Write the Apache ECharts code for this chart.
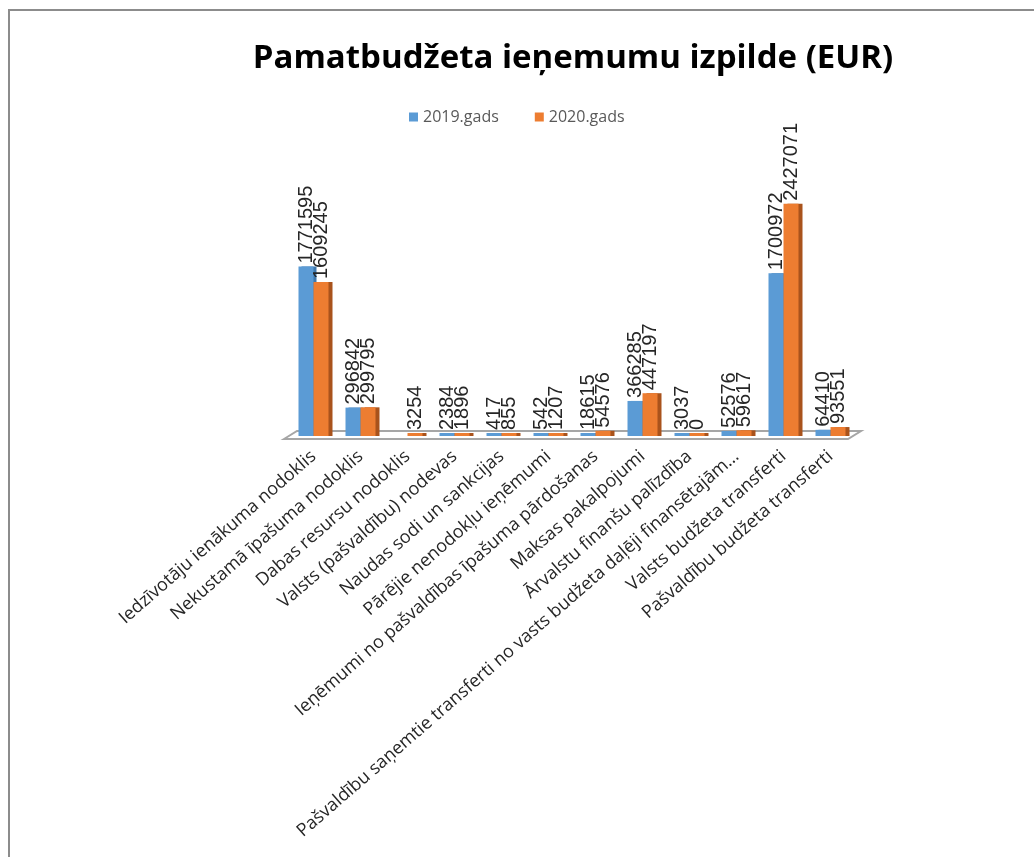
<!DOCTYPE html>
<html><head><meta charset="utf-8">
<script src="https://cdn.jsdelivr.net/npm/echarts@6/dist/echarts.min.js"></script>
<style>
html,body{margin:0;padding:0;background:#fff;}
#c{position:absolute;left:0;top:0;width:1034px;height:857px;}
#frame{position:absolute;left:8px;top:9px;width:1040px;height:860px;border-left:2px solid #8c8c8c;border-top:2px solid #8c8c8c;pointer-events:none;}
</style></head>
<body>
<div id="c"></div>
<div id="frame"></div>
<script>
const titleText = 'Pamatbudžeta ieņemumu izpilde (EUR)';
const seriesNames = ['2019.gads', '2020.gads'];
const categories = [
  'Iedzīvotāju ienākuma nodoklis',
  'Nekustamā īpašuma nodoklis',
  'Dabas resursu nodoklis',
  'Valsts (pašvaldību) nodevas',
  'Naudas sodi un sankcijas',
  'Pārējie nenodokļu ieņēmumi',
  'Ieņēmumi no pašvaldības īpašuma pārdošanas',
  'Maksas pakalpojumi',
  'Ārvalstu finanšu palīzdība',
  'Pašvaldību saņemtie transferti no vasts budžeta daļēji finansētajām…',
  'Valsts budžeta transferti',
  'Pašvaldību budžeta transferti'
];
const values2019 = [1771595, 296842, null, 2384, 417, 542, 18615, 366285, 3037, 52576, 1700972, 64410];
const values2020 = [1609245, 299795, 3254, 1896, 855, 1207, 54576, 447197, 0, 59617, 2427071, 93551];

const chart = echarts.init(document.getElementById('c'));
const labelStyle = {
  show: true, position: 'top', rotate: 90, align: 'left', verticalAlign: 'middle',
  distance: 3, fontFamily: 'Liberation Sans', fontSize: 20, color: '#262626'
};
chart.setOption({
  backgroundColor: '#ffffff',
  animation: false,
  title: {
    text: titleText, left: 568, top: 37, textAlign: 'center',
    textStyle: { fontFamily: 'Open Sans', fontWeight: 'bold', fontSize: 33, color: '#000000' }
  },
  legend: {
    data: seriesNames, left: 404, top: 104, itemWidth: 9, itemHeight: 9, itemGap: 36,
    icon: 'rect',
    textStyle: { fontFamily: 'Open Sans', fontSize: 16, color: '#595959' }
  },
  graphic: [{
    type: 'polygon', z: 0,
    shape: { points: [[284, 439], [297, 431], [861, 431], [848, 439]] },
    style: { fill: '#ffffff', stroke: '#a6a6a6', lineWidth: 2 }
  }],
  grid: { left: 290, right: 180, top: 149, bottom: 421 },
  xAxis: {
    type: 'category', data: categories,
    axisLine: { show: false }, axisTick: { show: false },
    axisLabel: {
      interval: 0, rotate: 41, margin: 18,
      fontFamily: 'Open Sans', fontSize: 18, color: '#262626'
    }
  },
  yAxis: {
    type: 'value', min: 0, max: 3000000, interval: 500000,
    show: false, splitLine: { show: false }
  },
  series: [
    {
      name: seriesNames[0], type: 'bar', data: values2019,
      barWidth: 15, barGap: '0%', barMinHeight: 3, z: 3,
      itemStyle: { color: '#5B9BD5', shadowColor: '#3f78ad', shadowOffsetX: 3, shadowOffsetY: 0, shadowBlur: 0 },
      label: Object.assign({}, labelStyle)
    },
    {
      name: seriesNames[1], type: 'bar', data: values2020,
      barWidth: 15, barGap: '0%', barMinHeight: 3, z: 4,
      itemStyle: { color: '#ED7D31', shadowColor: '#a9531c', shadowOffsetX: 4, shadowOffsetY: 0, shadowBlur: 0 },
      label: Object.assign({}, labelStyle)
    }
  ]
});
</script>
</body></html>
